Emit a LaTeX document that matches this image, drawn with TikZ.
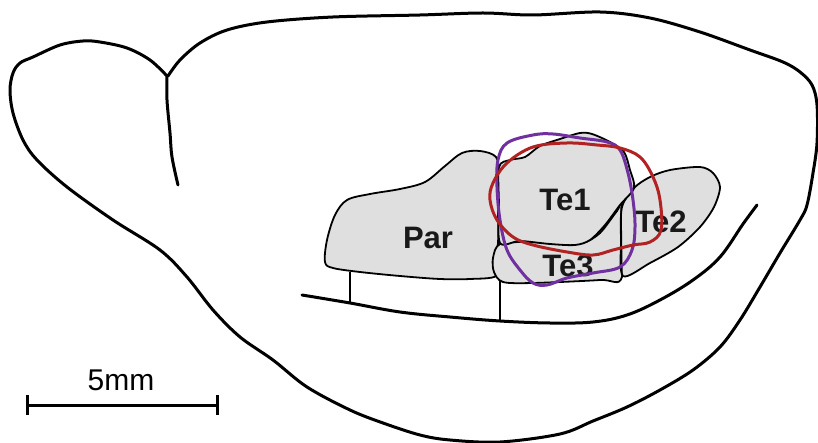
\documentclass[tikz,border=0pt]{standalone}
\usepackage{fontspec}
\setmainfont{Liberation Sans}
\usepackage{xcolor}
\usepackage{tikz}
\usetikzlibrary{arrows.meta}

\definecolor{terust}{RGB}{178,34,34}
\definecolor{teviolet}{RGB}{112,48,160}

\begin{document}
\begin{tikzpicture}[x=1pt, y=-1pt,
    outline/.style={draw=black, line width=3pt, line cap=round, line join=round},
    area/.style={draw=black, fill=gray!25, line width=1.8pt, line join=round},
    divider/.style={draw=black, line width=1.3pt},
    tracer/.style={line width=3pt, line join=round},
    region/.style={font=\fontsize{31}{31}\selectfont\bfseries, text=black!90, inner sep=0pt},
    scalebar/.style={draw=black, line width=3pt}]

    \useasboundingbox (0,0) rectangle (818,443);

    % hemisphere outline, olfactory bulb first
    \draw [outline] plot [smooth, tension=0.55] coordinates {
        (167,76) (150,60) (127,48) (100,42) (83,41) (60,45) (33,57) (20,63)
        (13,73) (10,90) (13,113) (23,140) (37,160) (67,187) (113,220)
        (160,250) (187,277) (213,310) (240,337) (273,360) (307,387)
        (350,410) (383,423) (420,435) (450,440) (500,442) (560,434)
        (593,421) (627,407) (660,390) (693,370) (720,347) (740,320)
        (760,287) (780,253) (800,220) (807,205) (813,173) (817,143)
        (817,105) (812,85) (800,72) (783,62) (750,50) (700,32) (650,18)
        (600,12) (533,15) (483,13) (420,15) (333,17) (267,22) (227,30)
        (200,43) (180,60) (168,76)};
    \draw [outline] plot [smooth, tension=0.6] coordinates {
        (167,77) (167,100) (170,133) (172,157) (178,185)};

    % rhinal fissure
    \draw [outline] plot [smooth, tension=0.6] coordinates {
        (302,295) (350,303) (400,312) (450,317) (500,321) (550,323)
        (593,322) (627,315) (660,300) (693,280) (720,257) (743,224) (757,205)};

    % cortical fields
    \draw [divider] (350,272) -- (350,303);
    \draw [divider] (500,281) -- (500,321);

    \draw [area] plot [smooth cycle, tension=0.55] coordinates {
        (325,262) (327,240) (335,215) (347,200) (370,194) (400,189)
        (425,182) (445,166) (462,153) (480,151) (496,157) (499,175)
        (498,205) (498,243) (494,260) (496,276) (470,279) (440,279)
        (400,276) (360,272) (333,268)};
    \draw [area] plot [smooth cycle, tension=0.5] coordinates {
        (500,244) (530,242) (560,244) (583,243) (600,233) (617,211)
        (622,207) (622,277) (600,280) (533,283) (503,282) (494,272)
        (493,258)};
    \draw [area] plot [smooth cycle, tension=0.5] coordinates {
        (634,188) (650,177) (670,170) (700,167) (713,173) (720,187)
        (714,207) (700,227) (678,247) (650,263) (623,276) (621,240)
        (622,207)};
    \draw [area] plot [smooth cycle, tension=0.5] coordinates {
        (499,205) (499,167) (510,160) (525,157) (540,146) (560,139)
        (580,133) (592,134) (610,142) (624,152) (630,170) (634,188)
        (620,205) (605,225) (590,240) (575,245) (550,244) (520,241)
        (500,243)};
    \draw [divider] (621,207) -- (622,277);

    \node [region] (par) at (428,238) {Par};
    \node [region] (te1) at (565,200) {Te1};
    \node [region] (te2) at (661,222) {Te2};
    \node [region] (te3) at (568,266) {Te3};

    % tracer injection borders
    \draw [tracer, teviolet] plot [smooth cycle, tension=0.6] coordinates {
        (507,143) (533,135) (553,134) (580,138) (607,142) (620,150)
        (628,173) (633,200) (635,227) (632,250) (620,267) (593,273)
        (567,278) (547,285) (533,283) (520,270) (507,250) (500,220)
        (497,187) (498,160)};
    \draw [tracer, terust] plot [smooth cycle, tension=0.6] coordinates {
        (507,163) (533,147) (567,143) (597,145) (620,148) (640,157)
        (653,177) (660,200) (661,230) (650,242) (633,245) (613,250)
        (593,255) (567,252) (533,245) (513,237) (497,220) (490,200)
        (493,183)};

    % scale bar
    \draw [scalebar] (27,405) coordinate (bar-l) -- (217,405) coordinate (bar-r);
    \draw [scalebar] (27,395) -- (27,415);
    \draw [scalebar] (217,395) -- (217,415);
    \node [font=\fontsize{30}{30}\selectfont, inner sep=0pt] (scale) at (121,380) {5mm};
\end{tikzpicture}
\end{document}
